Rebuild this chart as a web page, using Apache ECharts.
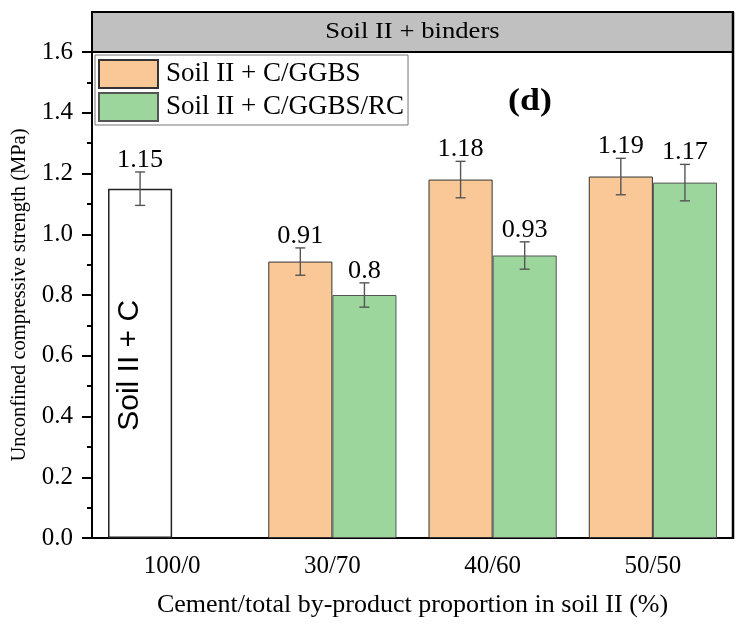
<!DOCTYPE html>
<html>
<head>
<meta charset="utf-8">
<script src="https://cdn.jsdelivr.net/npm/echarts@6/dist/echarts.min.js"></script>
<style>
html,body{margin:0;padding:0;background:#fff;}
#chart{width:745px;height:627px;}
</style>
</head>
<body>
<div id="chart"></div>
<script>
// ---- data ----
const categories = ['100/0', '30/70', '40/60', '50/50'];
const controlName = 'Soil II + C';
const controlValue = 1.15;          // 100/0 (cement only)
const controlErr = 0.055;
const ggbsName = 'Soil II + C/GGBS';
const ggbsValues = [null, 0.91, 1.18, 1.19];
const ggbsErr = [null, 0.045, 0.06, 0.06];
const rcName = 'Soil II + C/GGBS/RC';
const rcValues = [null, 0.80, 0.93, 1.17];
const rcErr = [null, 0.04, 0.045, 0.06];
const yTicks = [0, 0.2, 0.4, 0.6, 0.8, 1.0, 1.2, 1.4, 1.6];

// ---- styling ----
const SERIF = "'Liberation Serif','Times New Roman',serif";
const SANS = "'Liberation Sans',Arial,sans-serif";
const ORANGE = '#F9C896';
const GREEN = '#9DD69C';

const chart = echarts.init(document.getElementById('chart'), null, {renderer: 'canvas'});

// orange slot carries the control bar in the first category
const ggbsData = ggbsValues.map((v, i) => {
  if (i === 0) {
    return {
      value: controlValue,
      itemStyle: {color: '#ffffff', borderColor: '#222', borderWidth: 1.5},
      label: {
        show: true, formatter: controlName, position: 'inside', rotate: 90,
        offset: [-2, -10], fontFamily: SANS, fontSize: 30, color: '#000'
      }
    };
  }
  return v;
});

// error bar + value label data: [categoryIndex, value, err, slot(-1 left / +1 right)]
const errData = [];
errData.push([0, controlValue, controlErr, -1]);
ggbsValues.forEach((v, i) => { if (v != null) errData.push([i, v, ggbsErr[i], -1]); });
rcValues.forEach((v, i) => { if (v != null) errData.push([i, v, rcErr[i], 1]); });

function renderErr(params, api) {
  const ci = api.value(0), v = api.value(1), e = api.value(2), slot = api.value(3);
  const band = api.size([1, 0])[0];
  const c = api.coord([ci, v]);
  const x = c[0] + slot * band * 0.2;
  const yTop = api.coord([ci, v + e])[1];
  const yBot = api.coord([ci, v - e])[1];
  const cap = 5;
  const ls = {stroke: '#555', lineWidth: 1.4};
  return {
    type: 'group',
    children: [
      {type: 'line', shape: {x1: x, y1: yTop, x2: x, y2: yBot}, style: ls},
      {type: 'line', shape: {x1: x - cap, y1: yTop, x2: x + cap, y2: yTop}, style: ls},
      {type: 'line', shape: {x1: x - cap, y1: yBot, x2: x + cap, y2: yBot}, style: ls},
      {type: 'text', x: x, y: yTop + 1, scaleX: 1.05,
       style: {text: String(v), fontFamily: SERIF, fontSize: 25, fill: '#000',
               textAlign: 'center', textVerticalAlign: 'bottom'}}
    ]
  };
}

const option = {
  animation: false,
  backgroundColor: '#fff',
  grid: {left: 92, right: 12, top: 52, bottom: 89, containLabel: false},
  legend: {
    orient: 'vertical', left: 95, top: 55,
    data: [ggbsName, rcName],
    icon: 'rect', itemWidth: 59, itemHeight: 28, itemGap: 3,
    backgroundColor: '#fff', borderColor: '#777', borderWidth: 1,
    padding: [4, 4, 3, 3],
    textStyle: {fontFamily: SERIF, fontSize: 27, lineHeight: 28, color: '#000', padding: [0, 0, 0, 3]}
  },
  xAxis: {
    type: 'category', data: categories,
    axisLine: {lineStyle: {color: '#000', width: 2}},
    axisTick: {alignWithLabel: true, length: 8, lineStyle: {color: '#000', width: 2}},
    axisLabel: {fontFamily: SERIF, fontSize: 25, color: '#000', margin: 16},
    name: 'Cement/total by-product proportion in soil II (%)',
    nameLocation: 'middle', nameGap: 54,
    nameTextStyle: {fontFamily: SERIF, fontSize: 26, color: '#000'}
  },
  yAxis: {
    type: 'value', min: yTicks[0], max: yTicks[yTicks.length - 1], interval: 0.2,
    axisLine: {show: true, lineStyle: {color: '#000', width: 2}},
    axisTick: {show: true, length: 10, lineStyle: {color: '#000', width: 2}},
    minorTick: {show: true, splitNumber: 2, length: 5, lineStyle: {color: '#000', width: 2}},
    splitLine: {show: false},
    axisLabel: {fontFamily: SERIF, fontSize: 25, color: '#000', margin: 19,
                formatter: v => v.toFixed(1)},
    name: 'Unconfined compressive strength (MPa)',
    nameLocation: 'middle', nameGap: 62,
    nameTextStyle: {fontFamily: SERIF, fontSize: 20.5, color: '#000'}
  },
  series: [
    {
      name: ggbsName, type: 'bar', data: ggbsData,
      barGap: '0%', barCategoryGap: '20%',
      itemStyle: {color: ORANGE, borderColor: '#333', borderWidth: 1}
    },
    {
      name: rcName, type: 'bar', data: rcValues,
      barGap: '0%', barCategoryGap: '20%',
      itemStyle: {color: GREEN, borderColor: '#555', borderWidth: 1}
    },
    {
      type: 'custom', renderItem: renderErr, data: errData, z: 5,
      encode: {x: 0, y: 1}, clip: false, silent: true
    }
  ],
  graphic: [
    {type: 'rect', shape: {x: 92, y: 12, width: 641, height: 40},
     style: {fill: '#c0c0c0', stroke: '#000', lineWidth: 2}, z: 10},
    {type: 'text', x: 412.5, y: 32, z: 11, scaleX: 1.16,
     style: {text: 'Soil II + binders', fontFamily: SERIF, fontSize: 23, fill: '#000',
             textAlign: 'center', textVerticalAlign: 'middle'}},
    {type: 'line', shape: {x1: 733, y1: 12, x2: 733, y2: 539},
     style: {stroke: '#000', lineWidth: 2.5}, z: 10},
    {type: 'text', x: 530, y: 102, z: 11, scaleX: 1.12,
     style: {text: '(d)', fontFamily: SERIF, fontSize: 32, fontWeight: 'bold', fill: '#000',
             textAlign: 'center', textVerticalAlign: 'middle'}}
  ]
};
chart.setOption(option);
</script>
</body>
</html>
